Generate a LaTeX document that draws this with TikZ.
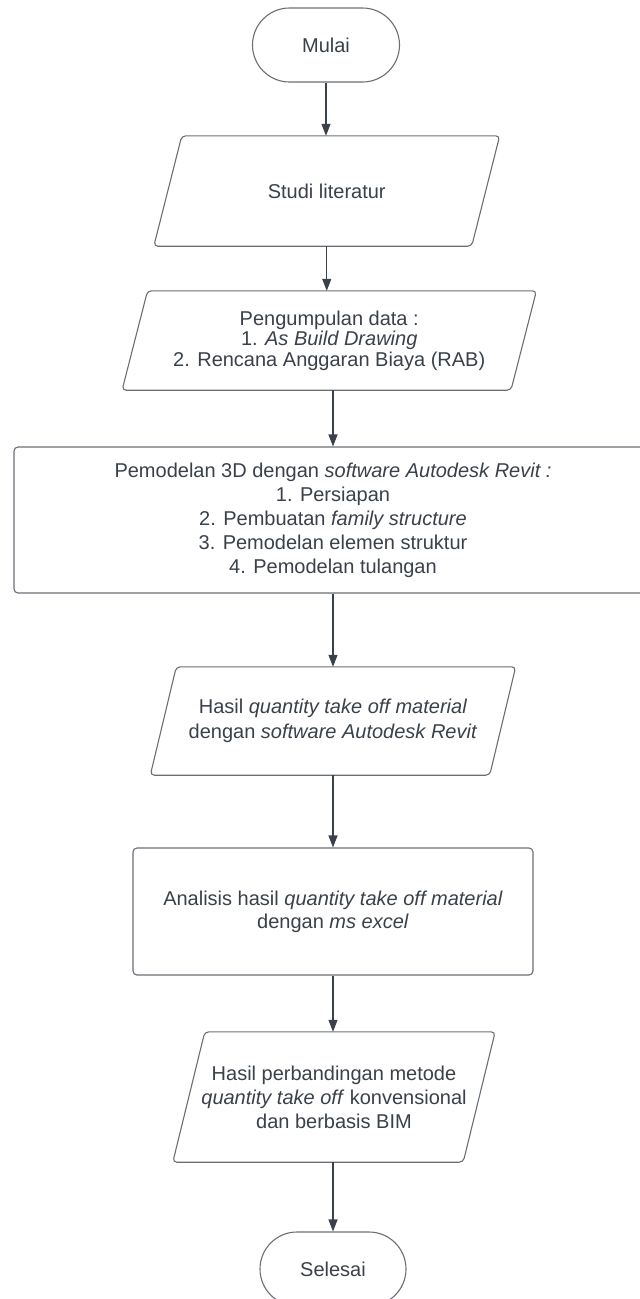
\documentclass[tikz,border=0pt]{standalone}
\usepackage{fontspec}
\setmainfont{Liberation Sans}
\usetikzlibrary{arrows.meta}
\definecolor{borderc}{HTML}{6B6F75}
\definecolor{arrowc}{HTML}{3A414A}
\definecolor{textc}{HTML}{3A414A}
\tikzset{
  txt/.style={inner sep=0pt, align=center, text=textc, font=\fontsize{20}{24}\selectfont},
  termbox/.style={txt, draw=borderc, line width=1.1pt, rounded corners=37pt, minimum width=147pt, minimum height=74pt},
  procbox/.style={txt, draw=borderc, line width=1.1pt, rounded corners=4pt},
  parabox/.style={txt},
  shapeb/.style={draw=borderc, line width=1.1pt, rounded corners=4pt},
  flow/.style={draw=arrowc, line width=1.1pt, -{Triangle[length=12pt,width=9pt]}}
}
\newcommand{\drawpara}[2]{%
  \draw[shapeb] ([xshift=#2]#1.north west) -- ([xshift=#2]#1.north east)
    -- ([xshift=-#2]#1.south east) -- ([xshift=-#2]#1.south west) -- cycle;}
\begin{document}
\begin{tikzpicture}[x=1pt,y=-1pt]
\useasboundingbox (0,0) rectangle (640,1299);
\clip (0,0) rectangle (640,1299);
\fill[white] (0,0) rectangle (640,1299);

\node[termbox] (mulai) at (326,45) {Mulai};

\node[parabox, minimum width=317.5pt, minimum height=110pt] (studi) at (326.75,191) {Studi literatur};
\drawpara{studi}{14pt}

\node[parabox, minimum width=388.5pt, minimum height=99pt, font=\fontsize{20}{20.5}\selectfont] (peng) at (329.25,340.5)
  {Pengumpulan data :\\1. \textit{As Build Drawing}\\2. Rencana Anggaran Biaya (RAB)};
\drawpara{peng}{12.75pt}

\node[procbox, minimum width=638pt, minimum height=146pt] (pemo) at (333,520)
  {Pemodelan 3D dengan \textit{software Autodesk Revit :}\\1. Persiapan\\2. Pembuatan \textit{family structure}\\3. Pemodelan elemen struktur\\4. Pemodelan tulangan};

\node[parabox, minimum width=339pt, minimum height=108pt, font=\fontsize{20}{25}\selectfont] (hasil) at (333,721)
  {Hasil \textit{quantity take off material}\\dengan \textit{software Autodesk Revit}};
\drawpara{hasil}{13pt}

\node[procbox, minimum width=400pt, minimum height=127pt, font=\fontsize{20}{23}\selectfont] (anal) at (333,911.5)
  {Analisis hasil \textit{quantity take off material}\\dengan \textit{ms excel}};

\node[parabox, minimum width=290pt, minimum height=130pt] (perb) at (334,1097)
  {Hasil perbandingan metode\\\textit{quantity take off} konvensional\\dan berbasis BIM};
\drawpara{perb}{16pt}

\node[termbox, minimum width=146pt] (selesai) at (333,1269) {Selesai};

\draw[flow] (mulai.south) -- (mulai.south |- studi.north);
\draw[flow] (studi.south) -- (studi.south |- peng.north);
\draw[flow] (peng.south -| pemo.north) -- (pemo.north);
\draw[flow] (pemo.south) -- (pemo.south |- hasil.north);
\draw[flow] (hasil.south) -- (anal.north);
\draw[flow] (anal.south) -- (anal.south |- perb.north);
\draw[flow] (selesai.north |- perb.south) -- (selesai.north);
\end{tikzpicture}
\end{document}
